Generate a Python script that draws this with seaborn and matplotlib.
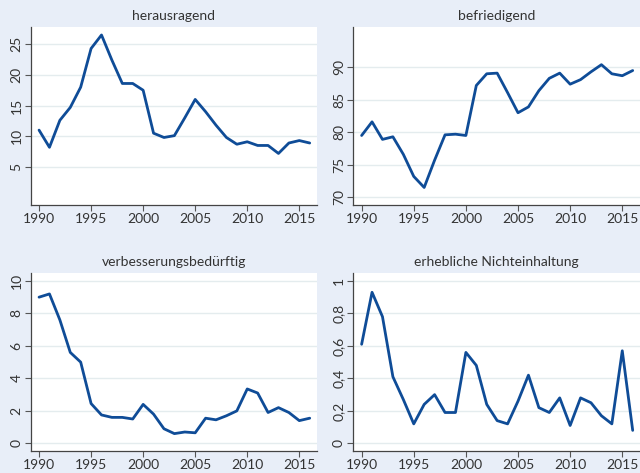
import matplotlib.pyplot as plt
import seaborn as sns
import pandas as pd

years = list(range(1990, 2017))

herausragend = [11.0, 8.2, 12.6, 14.7, 18.0, 24.3, 26.5, 22.4, 18.6, 18.6,
                17.5, 10.5, 9.8, 10.1, 13.0, 16.0, 14.0, 11.8, 9.8, 8.7,
                9.1, 8.5, 8.5, 7.2, 8.9, 9.3, 8.9]
befriedigend = [79.5, 81.6, 78.9, 79.3, 76.6, 73.2, 71.5, 75.7, 79.6, 79.7,
                79.5, 87.2, 89.0, 89.1, 86.1, 83.0, 83.9, 86.4, 88.3, 89.1,
                87.4, 88.1, 89.3, 90.4, 89.0, 88.7, 89.5]
verbesserung = [9.0, 9.2, 7.6, 5.6, 5.0, 2.45, 1.75, 1.6, 1.6, 1.5,
                2.4, 1.8, 0.9, 0.6, 0.7, 0.65, 1.55, 1.45, 1.7, 2.0,
                3.35, 3.1, 1.9, 2.2, 1.9, 1.4, 1.55]
nichteinhaltung = [0.61, 0.93, 0.78, 0.41, 0.27, 0.12, 0.24, 0.30, 0.19, 0.19,
                   0.56, 0.48, 0.24, 0.14, 0.12, 0.26, 0.42, 0.22, 0.19, 0.28,
                   0.11, 0.28, 0.25, 0.17, 0.12, 0.57, 0.08]

titles = ["herausragend", "befriedigend", "verbesserungsbedürftig", "erhebliche Nichteinhaltung"]
series = [herausragend, befriedigend, verbesserung, nichteinhaltung]
yticks = [[5, 10, 15, 20, 25], [70, 75, 80, 85, 90], [0, 2, 4, 6, 8, 10], [0, 0.2, 0.4, 0.6, 0.8, 1]]
yticklabels = [["5", "10", "15", "20", "25"], ["70", "75", "80", "85", "90"],
               ["0", "2", "4", "6", "8", "10"], ["0", "0,2", "0,4", "0,6", "0,8", "1"]]
ylims = [(-1.2, 27.8), (68.8, 96.2), (-0.47, 10.47), (-0.047, 1.047)]
xticks = [1990, 1995, 2000, 2005, 2010, 2015]

bg = "#e8eef8"
line_col = "#0f4c97"
text_col = "#333333"

sns.set_theme(style="white")
plt.rcParams["font.family"] = ["Lato", "DejaVu Sans"]

fig = plt.figure(figsize=(6.4, 4.73), dpi=100, facecolor=bg)
positions = [
    [0.048, 0.5666, 0.4473, 0.3763],
    [0.552, 0.5666, 0.448, 0.3763],
    [0.048, 0.0465, 0.4473, 0.3757],
    [0.552, 0.0465, 0.448, 0.3757],
]

for i in range(4):
    ax = fig.add_axes(positions[i])
    df = pd.DataFrame({"Jahr": years, "Wert": series[i]})
    sns.lineplot(data=df, x="Jahr", y="Wert", ax=ax, color=line_col, linewidth=2.0)
    ax.set_facecolor("white")
    ax.set_xlim(1989.2, 2016.7)
    ax.set_ylim(*ylims[i])
    ax.set_yticks(yticks[i])
    ax.set_yticklabels(yticklabels[i], rotation=90, va="center")
    ax.set_xticks(xticks)
    ax.set_xlabel("")
    ax.set_ylabel("")
    ax.set_title(titles[i], fontsize=10, color=text_col, pad=5)
    for t in yticks[i]:
        ax.axhline(t, color="#e4ecee", linewidth=1.0, zorder=0)
    ax.tick_params(axis="both", direction="out", length=4, width=0.8,
                   colors="#555555", labelcolor=text_col, labelsize=10, pad=2)
    ax.tick_params(axis="x", bottom=True)
    ax.tick_params(axis="y", left=True)
    for s in ["top", "right"]:
        ax.spines[s].set_visible(False)
    for s in ["left", "bottom"]:
        ax.spines[s].set_color("#444444")
        ax.spines[s].set_linewidth(0.9)

plt.savefig("out.png", dpi=100, facecolor=bg)
